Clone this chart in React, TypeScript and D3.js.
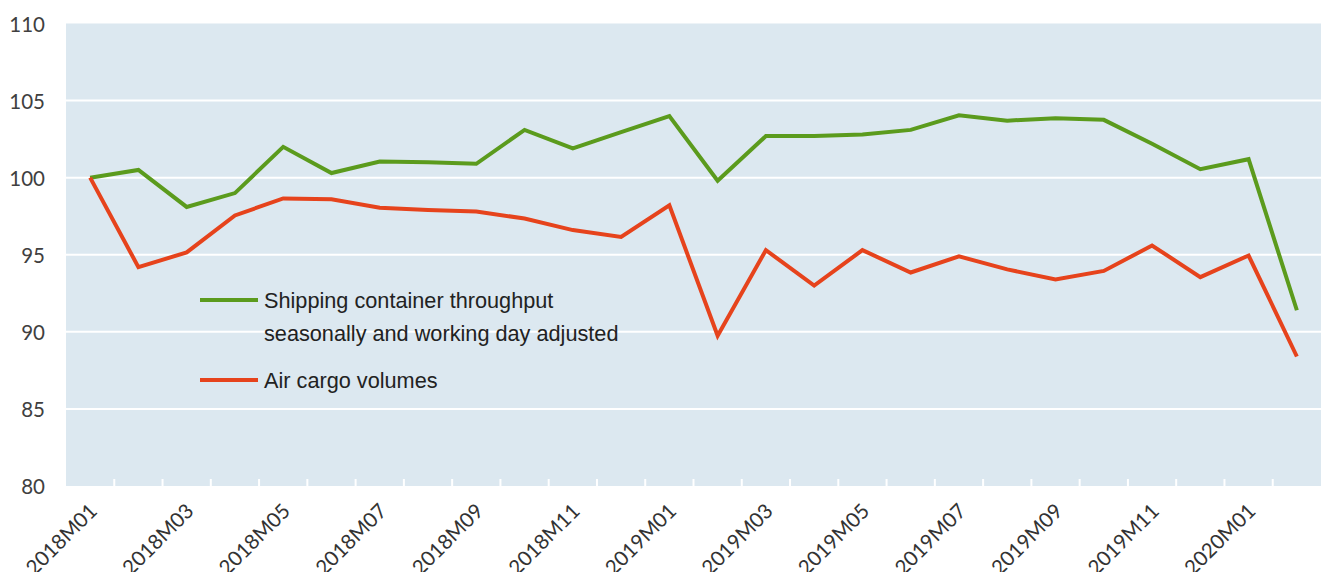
import React from "react";
import * as d3 from "d3";

const months = [
  "2018M01","2018M02","2018M03","2018M04","2018M05","2018M06","2018M07","2018M08","2018M09","2018M10","2018M11","2018M12",
  "2019M01","2019M02","2019M03","2019M04","2019M05","2019M06","2019M07","2019M08","2019M09","2019M10","2019M11","2019M12",
  "2020M01","2020M02",
];
const shipping = [
  100.0, 100.5, 98.1, 99.0, 102.0, 100.3, 101.05, 101.0, 100.9, 103.1, 101.9, 102.95,
  104.0, 99.8, 102.7, 102.7, 102.8, 103.1, 104.05, 103.7, 103.85, 103.75, 102.2, 100.55,
  101.2, 91.4,
];
const air = [
  100.0, 94.2, 95.15, 97.55, 98.65, 98.6, 98.05, 97.9, 97.8, 97.35, 96.6, 96.15,
  98.2, 89.75, 95.3, 93.0, 95.3, 93.85, 94.9, 94.05, 93.4, 93.95, 95.6, 93.55,
  94.95, 88.4,
];
const yTicks = [80, 85, 90, 95, 100, 105, 110];
const xLabels = months.filter((_, i) => i % 2 === 0);
const legendItems = [
  { lines: ["Shipping container throughput", "seasonally and working day adjusted"], color: "#5b9b1d" },
  { lines: ["Air cargo volumes"], color: "#e6431c" },
];

const W = 1324, H = 572;
const left = 66, right = 1321, top = 23.5, bottom = 486;

export default function App() {
  const x = d3.scaleBand<string>().domain(months).range([left, right]).padding(0);
  const cx = (m: string) => (x(m) as number) + x.bandwidth() / 2;
  const y = d3.scaleLinear().domain([80, 110]).range([bottom, top]);
  const line = d3.line<number>().x((_, i) => cx(months[i])).y((d) => y(d));
  const series = [shipping, air];

  return (
    <svg width={W} height={H} style={{ position: "absolute", left: 0, top: 0 }}>
      <rect x={0} y={0} width={W} height={H} fill="#ffffff" />
      <rect x={left} y={top} width={right - left} height={bottom - top} fill="#dce8f0" />
      {yTicks.filter((t) => t > 80 && t < 110).map((t) => (
        <line key={t} x1={left} x2={right} y1={y(t)} y2={y(t)} stroke="#ffffff" strokeWidth={2} />
      ))}
      {months.slice(1).map((m) => (
        <line key={m} x1={x(m)} x2={x(m)} y1={bottom} y2={bottom - 7} stroke="#ffffff" strokeWidth={2} />
      ))}
      {yTicks.map((t) => (
        <text key={t} x={45} y={y(t)} textAnchor="end" dominantBaseline="central"
          fontFamily="Lato, 'Open Sans', sans-serif" fontSize={20.5} fill="#404040">{t}</text>
      ))}
      {xLabels.map((m) => (
        <text key={m} transform={`translate(${cx(m) - 3},${bottom + 15}) rotate(-45)`} textAnchor="end"
          dominantBaseline="hanging" fontFamily="Lato, 'Open Sans', sans-serif" fontSize={20.5} fill="#333333">{m}</text>
      ))}
      {series.map((s, i) => (
        <path key={i} d={line(s) || ""} fill="none" stroke={legendItems[i].color} strokeWidth={4}
          strokeLinejoin="miter" />
      ))}
      {legendItems.map((it, i) => {
        const ly = i === 0 ? 300 : 380;
        return (
          <g key={i}>
            <line x1={200} x2={258} y1={ly} y2={ly} stroke={it.color} strokeWidth={4} />
            {it.lines.map((t, j) => (
              <text key={j} x={264} y={ly + j * 33} dominantBaseline="central"
                fontFamily="'Liberation Sans', Arial, sans-serif" fontSize={21.7} fill="#222222">{t}</text>
            ))}
          </g>
        );
      })}
    </svg>
  );
}
